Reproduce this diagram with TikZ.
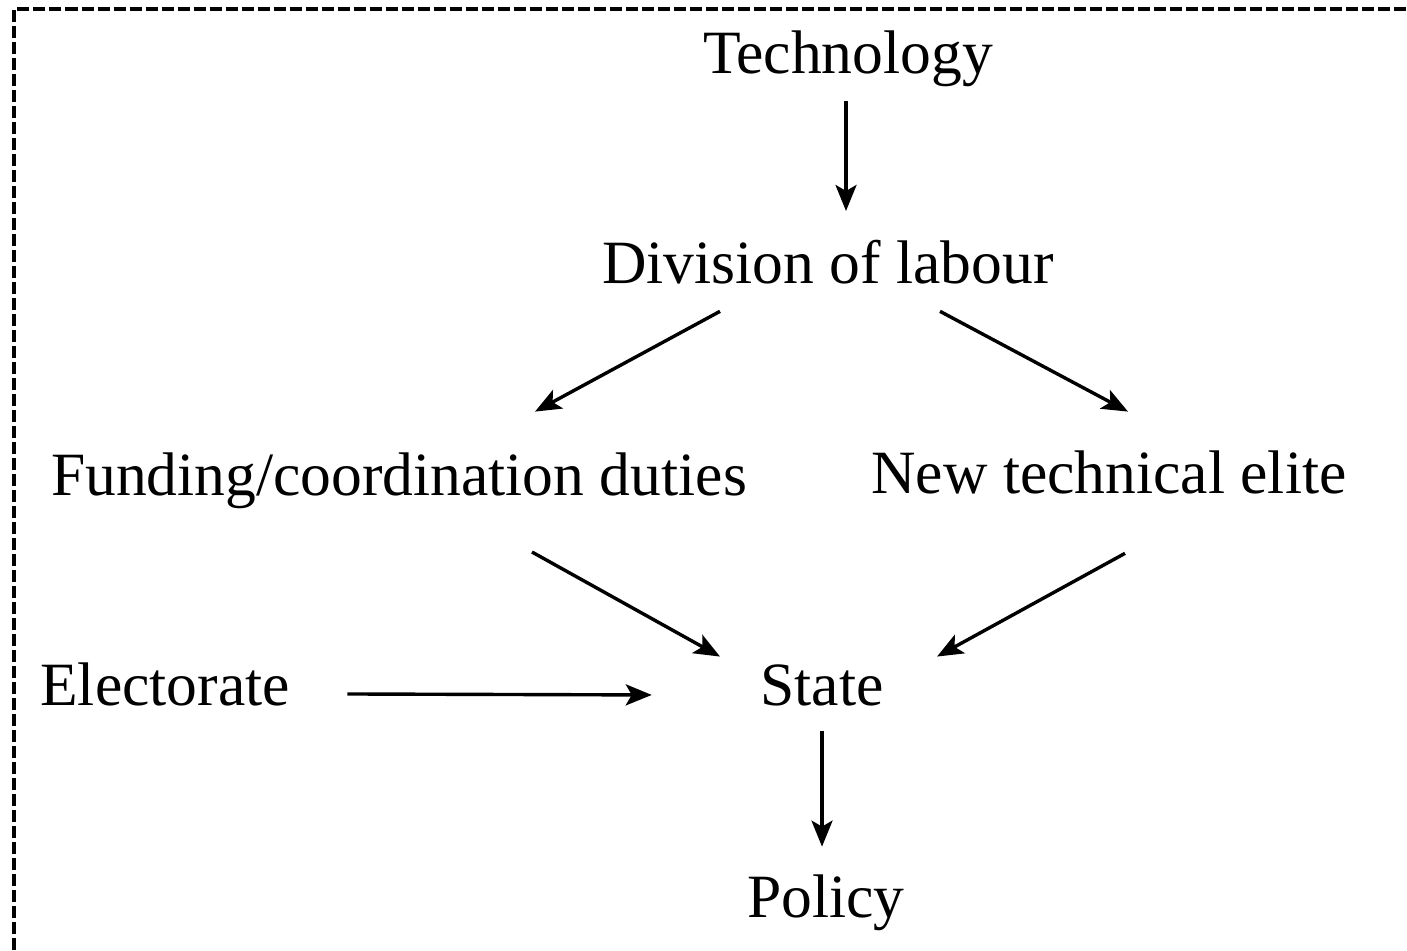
\documentclass[tikz,border=0pt]{standalone}
\usepackage{fontspec}
\setmainfont{Liberation Serif}
\usetikzlibrary{arrows.meta}

\begin{document}
\begin{tikzpicture}[x=0.01cm,y=0.01cm,
  lbl/.style={anchor=base,inner sep=0.14cm,font=\fontsize{17.5}{22}\selectfont},
  arr/.style={line width=0.034cm,-{Stealth[length=0.26cm,width=0.21cm,inset=0.06cm]}},
  frame/.style={line width=0.04cm,dash pattern=on 0.12cm off 0.04cm}]
\useasboundingbox (0,0) rectangle (1407,-950);
\draw[frame] (14,-950) -- (14,-9) -- (1407,-9);

\node[lbl](tech) at (848,-73) {Technology};
\node[lbl](div) at (828,-283) {Division of labour};
\node[lbl](fund) at (399,-495) {Funding/coordination duties};
\node[lbl](elite) at (1109,-493) {New technical elite};
\node[lbl](elect) at (165,-705) {Electorate};
\node[lbl](state) at (822,-705) {State};
\node[lbl](policy) at (826,-917) {Policy};

\draw[arr] ([shift={(-2,0)}]tech.south) -- ([shift={(18,14)}]div.north);
\draw[arr] ([shift={(-108,-13)}]div.south) -- ([shift={(136,26)}]fund.north);
\draw[arr] ([shift={(112,-13)}]div.south) -- ([shift={(19,24)}]elite.north);
\draw[arr] ([shift={(133,-29)}]fund.south) -- ([shift={(-102,-7)}]state.north);
\draw[arr] ([shift={(16,-45)}]elite.south) -- ([shift={(115,-7)}]state.north);
\draw[arr] ([shift={(43,-10)}]elect.east) -- ([shift={(-94,-10)}]state.west);
\draw[arr] ([shift={(0,-11)}]state.south) -- ([shift={(-4,13)}]policy.north);
\end{tikzpicture}
\end{document}
